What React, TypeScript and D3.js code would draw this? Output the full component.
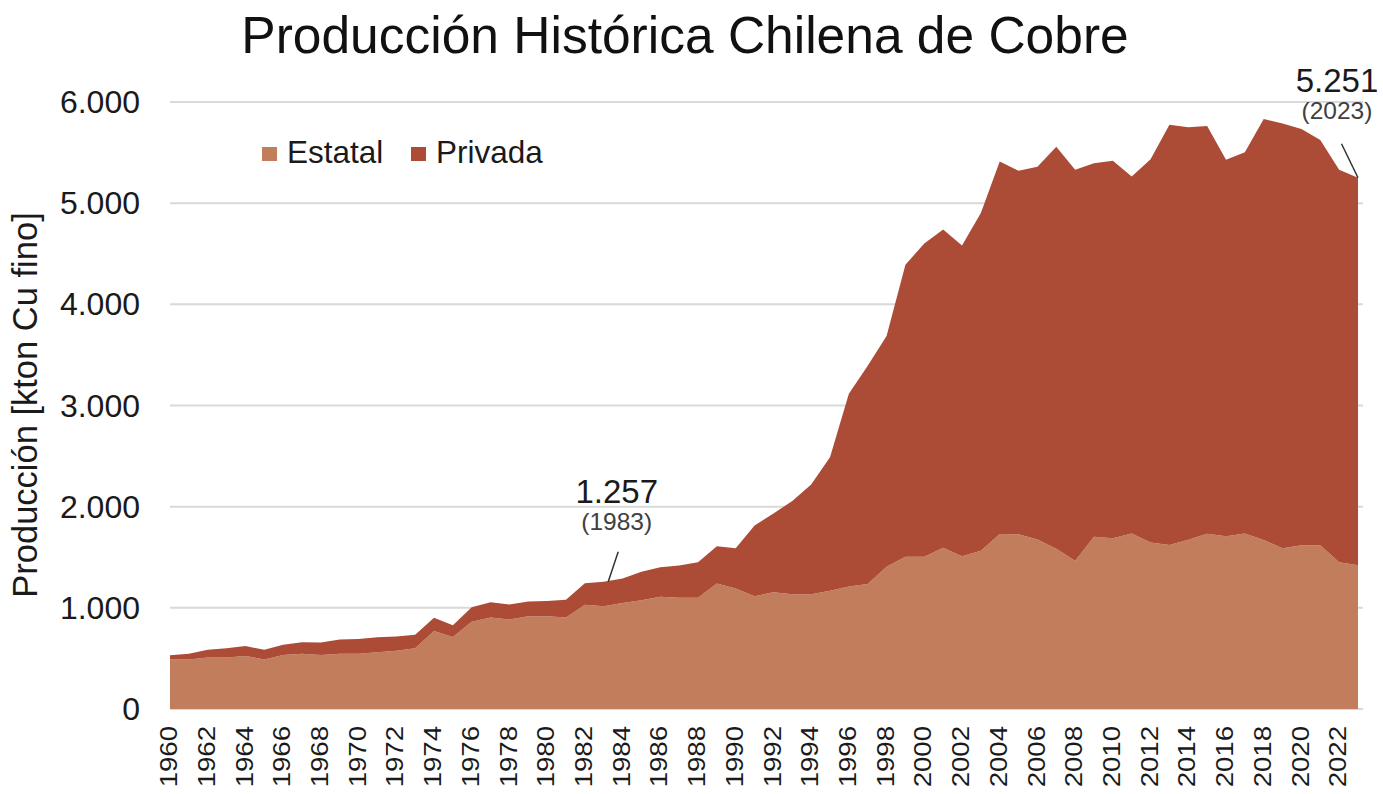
import React from "react";
import * as d3 from "d3";

const years: number[] = d3.range(1960, 2024);

const estatal: number[] = [
  490, 490, 510, 510, 525, 490, 535, 545, 535, 545,
  545, 560, 575, 600, 770, 712, 862, 904, 885, 918,
  918, 904, 1030, 1016, 1049, 1076, 1109, 1099, 1099, 1240,
  1191, 1115, 1155, 1135, 1135, 1170, 1210, 1235, 1405, 1505,
  1505, 1595, 1510, 1565, 1730, 1728, 1676, 1583, 1466, 1702,
  1689, 1735, 1647, 1620, 1672, 1732, 1707, 1734, 1670, 1590,
  1618, 1618, 1450, 1420,
];

const privada: number[] = [
  42, 56, 76, 91, 97, 95, 101, 115, 122, 143,
  147, 148, 142, 135, 132, 116, 143, 150, 149, 145,
  150, 177, 212, 241, 242, 280, 292, 319, 352, 369,
  397, 699, 778, 920, 1085, 1319, 1906, 2157, 2282, 2886,
  3097, 3144, 3071, 3339, 3683, 3593, 3685, 3974, 3864, 3692,
  3730, 3528, 3787, 4156, 4078, 4032, 3723, 3770, 4162, 4197,
  4115, 4006, 3880, 3831,
];

const seriesKeys = ["estatal", "privada"];
const seriesLabels = ["Estatal", "Privada"];
const seriesColors = ["#c27d5d", "#ac4b36"];
const yTicks = [0, 1000, 2000, 3000, 4000, 5000, 6000];
const xLabelYears = d3.range(1960, 2023, 2);
const annotatedYears = [1983, 2023];

const title = "Producción Histórica Chilena de Cobre";
const yTitle = "Producción [kton Cu fino]";

const W = 1383;
const H = 794;
const M = { left: 170, right: 1358, top: 102, bottom: 709 };
const FONT = "'Liberation Sans', Arial, sans-serif";

const locale = d3.formatLocale({
  decimal: ",",
  thousands: ".",
  grouping: [3],
  currency: ["$", ""],
});
const fmt = locale.format(",d");

export default function App() {
  const rows = years.map((yr, i) => ({
    year: yr,
    estatal: estatal[i],
    privada: privada[i],
  }));

  const x = d3.scaleLinear().domain([1960, 2023]).range([M.left, M.right]);
  const y = d3.scaleLinear().domain([0, 6000]).range([M.bottom, M.top]);

  const stack = d3.stack<any>().keys(seriesKeys);
  const layers = stack(rows);

  const area = d3
    .area<any>()
    .x((d) => x(d.data.year))
    .y0((d) => y(d[0]))
    .y1((d) => y(d[1]));

  const totalOf = (yr: number) => {
    const i = years.indexOf(yr);
    return estatal[i] + privada[i];
  };

  return (
    <svg
      width={W}
      height={H}
      style={{ position: "absolute", left: 0, top: 0, background: "#fff" }}
      fontFamily={FONT}
    >
      <rect x={0} y={0} width={W} height={H} fill="#fff" />
      {/* gridlines */}
      {yTicks.map((t) => (
        <line
          key={t}
          x1={M.left}
          x2={M.right + 5}
          y1={y(t)}
          y2={y(t)}
          stroke="#d9d9d9"
          strokeWidth={2}
        />
      ))}
      {/* areas */}
      {layers.map((layer, i) => (
        <path key={layer.key} d={area(layer) as string} fill={seriesColors[i]} />
      ))}
      {/* y tick labels */}
      {yTicks.map((t) => (
        <text
          key={t}
          x={140}
          y={y(t) + 11}
          textAnchor="end"
          fontSize={32}
          fill="#1a1a1a"
        >
          {fmt(t)}
        </text>
      ))}
      {/* x tick labels */}
      {xLabelYears.map((yr) => (
        <text
          key={yr}
          transform={`translate(${x(yr) - 1},726) rotate(-90) scale(1.2,1)`}
          textAnchor="end"
          dominantBaseline="central"
          fontSize={23}
          fill="#1a1a1a"
        >
          {yr}
        </text>
      ))}
      {/* y axis title */}
      <text
        transform={`translate(37,405) rotate(-90)`}
        textAnchor="middle"
        fontSize={34.5}
        fill="#1a1a1a"
      >
        {yTitle}
      </text>
      {/* title */}
      <text x={685} y={53} textAnchor="middle" fontSize={51.5} fill="#111">
        {title}
      </text>
      {/* legend */}
      {seriesLabels.map((lab, i) => {
        const lx = i === 0 ? 262 : 411;
        return (
          <g key={lab}>
            <rect x={lx} y={147} width={15} height={14} fill={seriesColors[i]} />
            <text x={lx + 25} y={163} fontSize={31.5} fill="#1a1a1a">
              {lab}
            </text>
          </g>
        );
      })}
      {/* annotations */}
      {annotatedYears.map((yr) => {
        const tot = totalOf(yr);
        const px = x(yr);
        const py = y(tot);
        const isLast = yr === 2023;
        const cx = isLast ? px - 21 : px + 13;
        const v1 = isLast ? py - 86 : py - 79;
        const v2 = isLast ? py - 59 : py - 52;
        const l1 = isLast ? [px - 16.5, py - 34] : [px + 14.5, py - 30];
        const l2 = isLast ? [px, py] : [px + 4.5, py];
        return (
          <g key={yr}>
            <line
              x1={l1[0]}
              y1={l1[1]}
              x2={l2[0]}
              y2={l2[1]}
              stroke="#333"
              strokeWidth={1.5}
            />
            <text x={cx} y={v1} textAnchor="middle" fontSize={33} fill="#1a1a1a">
              {fmt(tot)}
            </text>
            <text x={cx} y={v2} textAnchor="middle" fontSize={24.5} fill="#404040">
              ({yr})
            </text>
          </g>
        );
      })}
    </svg>
  );
}
